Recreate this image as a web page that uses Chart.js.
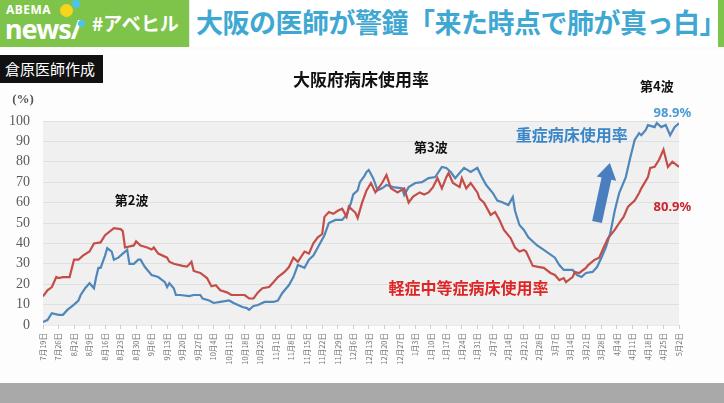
<!DOCTYPE html>
<html lang="ja">
<head>
<meta charset="UTF-8">
<script src="https://cdn.jsdelivr.net/npm/chart.js"></script>
<style>
  body { margin: 0; width: 724px; height: 403px; overflow: hidden; background: #fbfbfb; position: relative; font-family: "Noto Sans CJK JP", sans-serif; }
  .header { position: absolute; left: 0; top: 0; width: 724px; height: 47px; background: #e9e9e9; }
  .green { position: absolute; left: 0; top: 0; width: 189px; height: 47px; background: #7fc44a; }
  .abema { position: absolute; left: 6px; top: 1px; color: #fff; font: 700 12px "Noto Sans", sans-serif; letter-spacing: 0.5px; }
  .news { position: absolute; left: 5px; top: 10px; color: #fff; font: 700 27px "Noto Sans", sans-serif; letter-spacing: -1px; }
  .dot { position: absolute; border-radius: 50%; }
  .tag { position: absolute; left: 92px; top: 9px; color: #fff; font: 700 19px "Noto Sans CJK JP"; }
  .titlebox { position: absolute; left: 190px; top: 0; width: 528px; height: 47px; background: #fff; }
  .titlebox span { position: absolute; left: 6px; top: 2px; color: #3ea8d2; font: 700 27px "Noto Sans CJK JP"; letter-spacing: -0.5px; white-space: nowrap; }
  .strip { position: absolute; left: 718px; top: 0; width: 6px; height: 47px; background: #7fc44a; }
  .credit { position: absolute; left: 0; top: 55px; width: 103px; height: 28px; background: #111; color: #fff; font: 400 15px "Noto Sans CJK JP"; line-height: 28px; text-indent: 5px; z-index: 2; }
  .wrap { position: absolute; left: 0; top: 50px; width: 724px; height: 333px; background: #fdfdfd; }
  .bottom { position: absolute; left: 0; top: 383px; width: 724px; height: 20px; background: #a9a9a9; }
</style>
</head>
<body>
<div class="header">
  <div class="green">
    <div class="abema">ABEMA</div>
    <div class="news">news/</div>
    <div class="dot" style="left:60px;top:4px;width:13px;height:13px;background:#f7d51c"></div>
    <div class="dot" style="left:72px;top:0px;width:8px;height:8px;background:#4cc3ef"></div>
    <div class="dot" style="left:78px;top:20px;width:7px;height:7px;background:#4cc3ef"></div>
    <div class="tag">#アベヒル</div>
  </div>
  <div class="titlebox"><span>大阪の医師が警鐘「来た時点で肺が真っ白」</span></div>
  <div class="strip"></div>
</div>
<div class="wrap"><canvas id="myChart" width="724" height="333"></canvas></div>
<div class="credit">倉原医師作成</div>
<div class="bottom"></div>

<script>
// days counted from 7月19日
const tickLabels = ['7月19日','7月26日','8月2日','8月9日','8月16日','8月23日','8月30日','9月6日','9月13日','9月20日','9月27日',
  '10月4日','10月11日','10月18日','10月25日','11月1日','11月8日','11月15日','11月22日','11月29日','12月6日','12月13日',
  '12月20日','12月27日','1月3日','1月10日','1月17日','1月24日','1月31日','2月7日','2月14日','2月21日','2月28日',
  '3月7日','3月14日','3月21日','3月28日','4月4日','4月11日','4月18日','4月25日','5月2日'];

// 軽症中等症病床使用率
const mildDays = [0,2,4,6,7,9,12,14,16,18,21,23,26,28,32,35,36,37,41,42,44,47,49,50,52,56,57,59,63,65,67,68,71,74,76,78,80,83,85,88,91,93,95,97,99,102,104,106,109,111,113,115,118,120,122,124,126,127,129,131,133,135,137,138,141,142,144,146,148,150,153,155,157,160,163,165,167,170,172,174,176,178,180,182,183,185,188,189,191,193,196,197,199,202,204,206,208,211,213,215,217,218,221,224,226,229,231,233,235,236,239,240,242,245,246,249,251,253,255,258,260,262,264,267,269,270,273,274,276,278,280,282,284,286,287];
const mildRate = [14,17,18.6,23.5,23,23.5,23.5,32,32,34,36,40,40.5,44,47.5,47,46,38,39,41,39,38,37,38,35,33,31,30,29,28.6,31,26.5,25.5,23,19,19.5,17,16,14.7,14.7,14.7,13,13,16,18,18.6,21,23.5,26,28.4,33,31,36,35,40,43,44.6,53,55.4,54.5,56,57,53,58,55,52.5,60,66,69.6,65,69.6,73.5,67,65,67,60,63,65,64,65,67.6,72,67,72.5,74.5,69.6,67.6,72,67,69.6,65,62,60,54,55.4,51.5,46.6,42.6,38,36,36.8,36,29,28.4,28,25.5,24.5,22,23,21,23.5,26,25.5,28,29.4,32,33,38,42.6,46.6,50,53,58,61,64.7,67,72.5,77,77.5,81,86,77.5,80,78.4,77.5];

// 重症病床使用率
const severeDays = [0,2,4,7,9,11,14,16,17,19,21,23,24,25,26,28,29,31,32,34,36,38,39,41,43,44,46,49,52,55,56,57,59,60,62,66,68,71,72,75,77,80,84,86,90,92,93,95,97,100,104,106,108,111,113,115,118,120,122,124,127,129,132,135,137,139,140,142,143,145,146,147,149,151,153,155,158,162,163,165,168,171,174,177,180,182,184,186,188,190,193,196,198,200,203,205,207,210,212,213,215,217,219,223,226,231,233,235,239,241,243,245,248,250,252,254,256,258,260,263,265,267,269,270,272,273,276,277,279,281,283,285,287];
const severeRate = [1.5,2.4,5.8,5,5,7.4,10,12,14.7,18,20.5,18,23.5,28,28,34,37.7,36,32,33,35,36.8,30,30,32,32,28.4,24.5,23.5,21,18.6,20.5,18,14.7,14.7,14.2,14.7,14.7,13,12,10.8,11.3,12,10.8,8.8,8.3,7.4,9.3,9.8,11.3,11.3,12,15.7,19.6,23.5,29.4,28,32,34,38,44,50,51.5,51.5,54,60,64,66,70,73,75,76,72,66,67,68.6,67.6,67,63.7,67.6,69.6,70,72,72.5,77.5,77,75,72,74.5,77,75,77,72.5,68.6,64.7,61,60.3,58.8,62.7,56,49,46.6,43,39,36.8,33,29.4,27,27,24.5,23.5,25.5,26,28.4,33,38,45,56,64.7,72.5,82,90.7,94,93,95.6,98,97,99,97,98,93,97,98.9];

const toPoints = (xs, ys) => xs.map((d, i) => ({ x: d, y: ys[i] }));

const ctx = document.getElementById('myChart');

// plot background + annotations
const decor = {
  id: 'decor',
  beforeDraw(chart) {
    const a = chart.chartArea, c = chart.ctx;
    c.save();
    c.fillStyle = '#f0f0f0';
    c.fillRect(a.left, a.top, a.right - a.left, a.bottom - a.top);
    c.restore();
  },
  afterDraw(chart) {
    const c = chart.ctx, x = chart.scales.x, y = chart.scales.y;
    const txt = (s, d, v, color, font) => {
      c.fillStyle = color; c.font = font;
      c.textAlign = 'center'; c.textBaseline = 'middle';
      c.fillText(s, x.getPixelForValue(d), y.getPixelForValue(v));
    };
    c.save();
    c.fillStyle = '#111';
    c.font = '700 17px "Noto Sans CJK JP"';
    c.textAlign = 'center'; c.textBaseline = 'middle';
    c.fillText('大阪府病床使用率', 361, 30);
    c.font = '700 13px "Liberation Serif"';
    c.fillStyle = '#555';
    c.fillText('(%)', 23, 50);

    txt('第2波', 40, 61, '#111', '700 13px "Noto Sans CJK JP"');
    txt('第3波', 175, 87, '#111', '700 13px "Noto Sans CJK JP"');
    txt('第4波', 277, 117, '#111', '700 13px "Noto Sans CJK JP"');
    txt('重症病床使用率', 238.6, 93, '#3a86c8', '700 16px "Noto Sans CJK JP"');
    txt('98.9%', 284, 104, '#4a9bd4', '700 13px "Noto Sans"');
    txt('80.9%', 284, 57.8, '#c8262c', '700 13px "Noto Sans"');
    txt('軽症中等症病床使用率', 192, 18, '#de2424', '700 16px "Noto Sans CJK JP"');

    // arrow
    const x0 = x.getPixelForValue(250), y0 = y.getPixelForValue(50.5);
    const x1 = x.getPixelForValue(255.8), y1 = y.getPixelForValue(79.4);
    const len = Math.hypot(x1 - x0, y1 - y0);
    const ux = (x1 - x0) / len, uy = (y1 - y0) / len, px = -uy, py = ux;
    const sw = 5, hw = 10, hl = 16;
    const bx = x1 - ux * hl, by = y1 - uy * hl;
    c.fillStyle = '#4a7ebf';
    c.beginPath();
    c.moveTo(x0 + px * sw, y0 + py * sw);
    c.lineTo(bx + px * sw, by + py * sw);
    c.lineTo(bx + px * hw, by + py * hw);
    c.lineTo(x1, y1);
    c.lineTo(bx - px * hw, by - py * hw);
    c.lineTo(bx - px * sw, by - py * sw);
    c.lineTo(x0 - px * sw, y0 - py * sw);
    c.closePath();
    c.fill();
    c.restore();
  }
};

new Chart(ctx, {
  type: 'line',
  data: {
    datasets: [{
      label: '軽症中等症病床使用率',
      data: toPoints(mildDays, mildRate),
      borderColor: '#c44d48',
      borderWidth: 2.2,
      pointRadius: 0,
      tension: 0
    }, {
      label: '重症病床使用率',
      data: toPoints(severeDays, severeRate),
      borderColor: '#5087ba',
      borderWidth: 2.2,
      pointRadius: 0,
      tension: 0
    }]
  },
  options: {
    responsive: false,
    animation: false,
    layout: { padding: { top: 71, right: 45, left: 0, bottom: 8 } },
    plugins: { legend: { display: false }, tooltip: { enabled: false } },
    scales: {
      x: {
        type: 'linear',
        min: 0,
        max: 287,
        afterFit(s) { s.height = 50; },
        border: { display: false },
        grid: { drawOnChartArea: false, tickLength: 4, color: '#cfcfcf' },
        ticks: {
          stepSize: 7,
          autoSkip: false,
          minRotation: 90,
          maxRotation: 90,
          padding: 4,
          color: '#777',
          font: { family: '"Noto Sans CJK JP"', size: 7.5 },
          callback: v => tickLabels[v / 7]
        }
      },
      y: {
        min: 0,
        max: 100,
        afterFit(s) { s.width = 43; },
        border: { display: false },
        grid: { color: 'rgba(0,0,0,0.07)', drawTicks: false },
        ticks: {
          stepSize: 10,
          padding: 13,
          color: '#5a5a5a',
          font: { family: '"Liberation Serif"', size: 14 }
        }
      }
    }
  },
  plugins: [decor]
});
</script>
</body>
</html>
